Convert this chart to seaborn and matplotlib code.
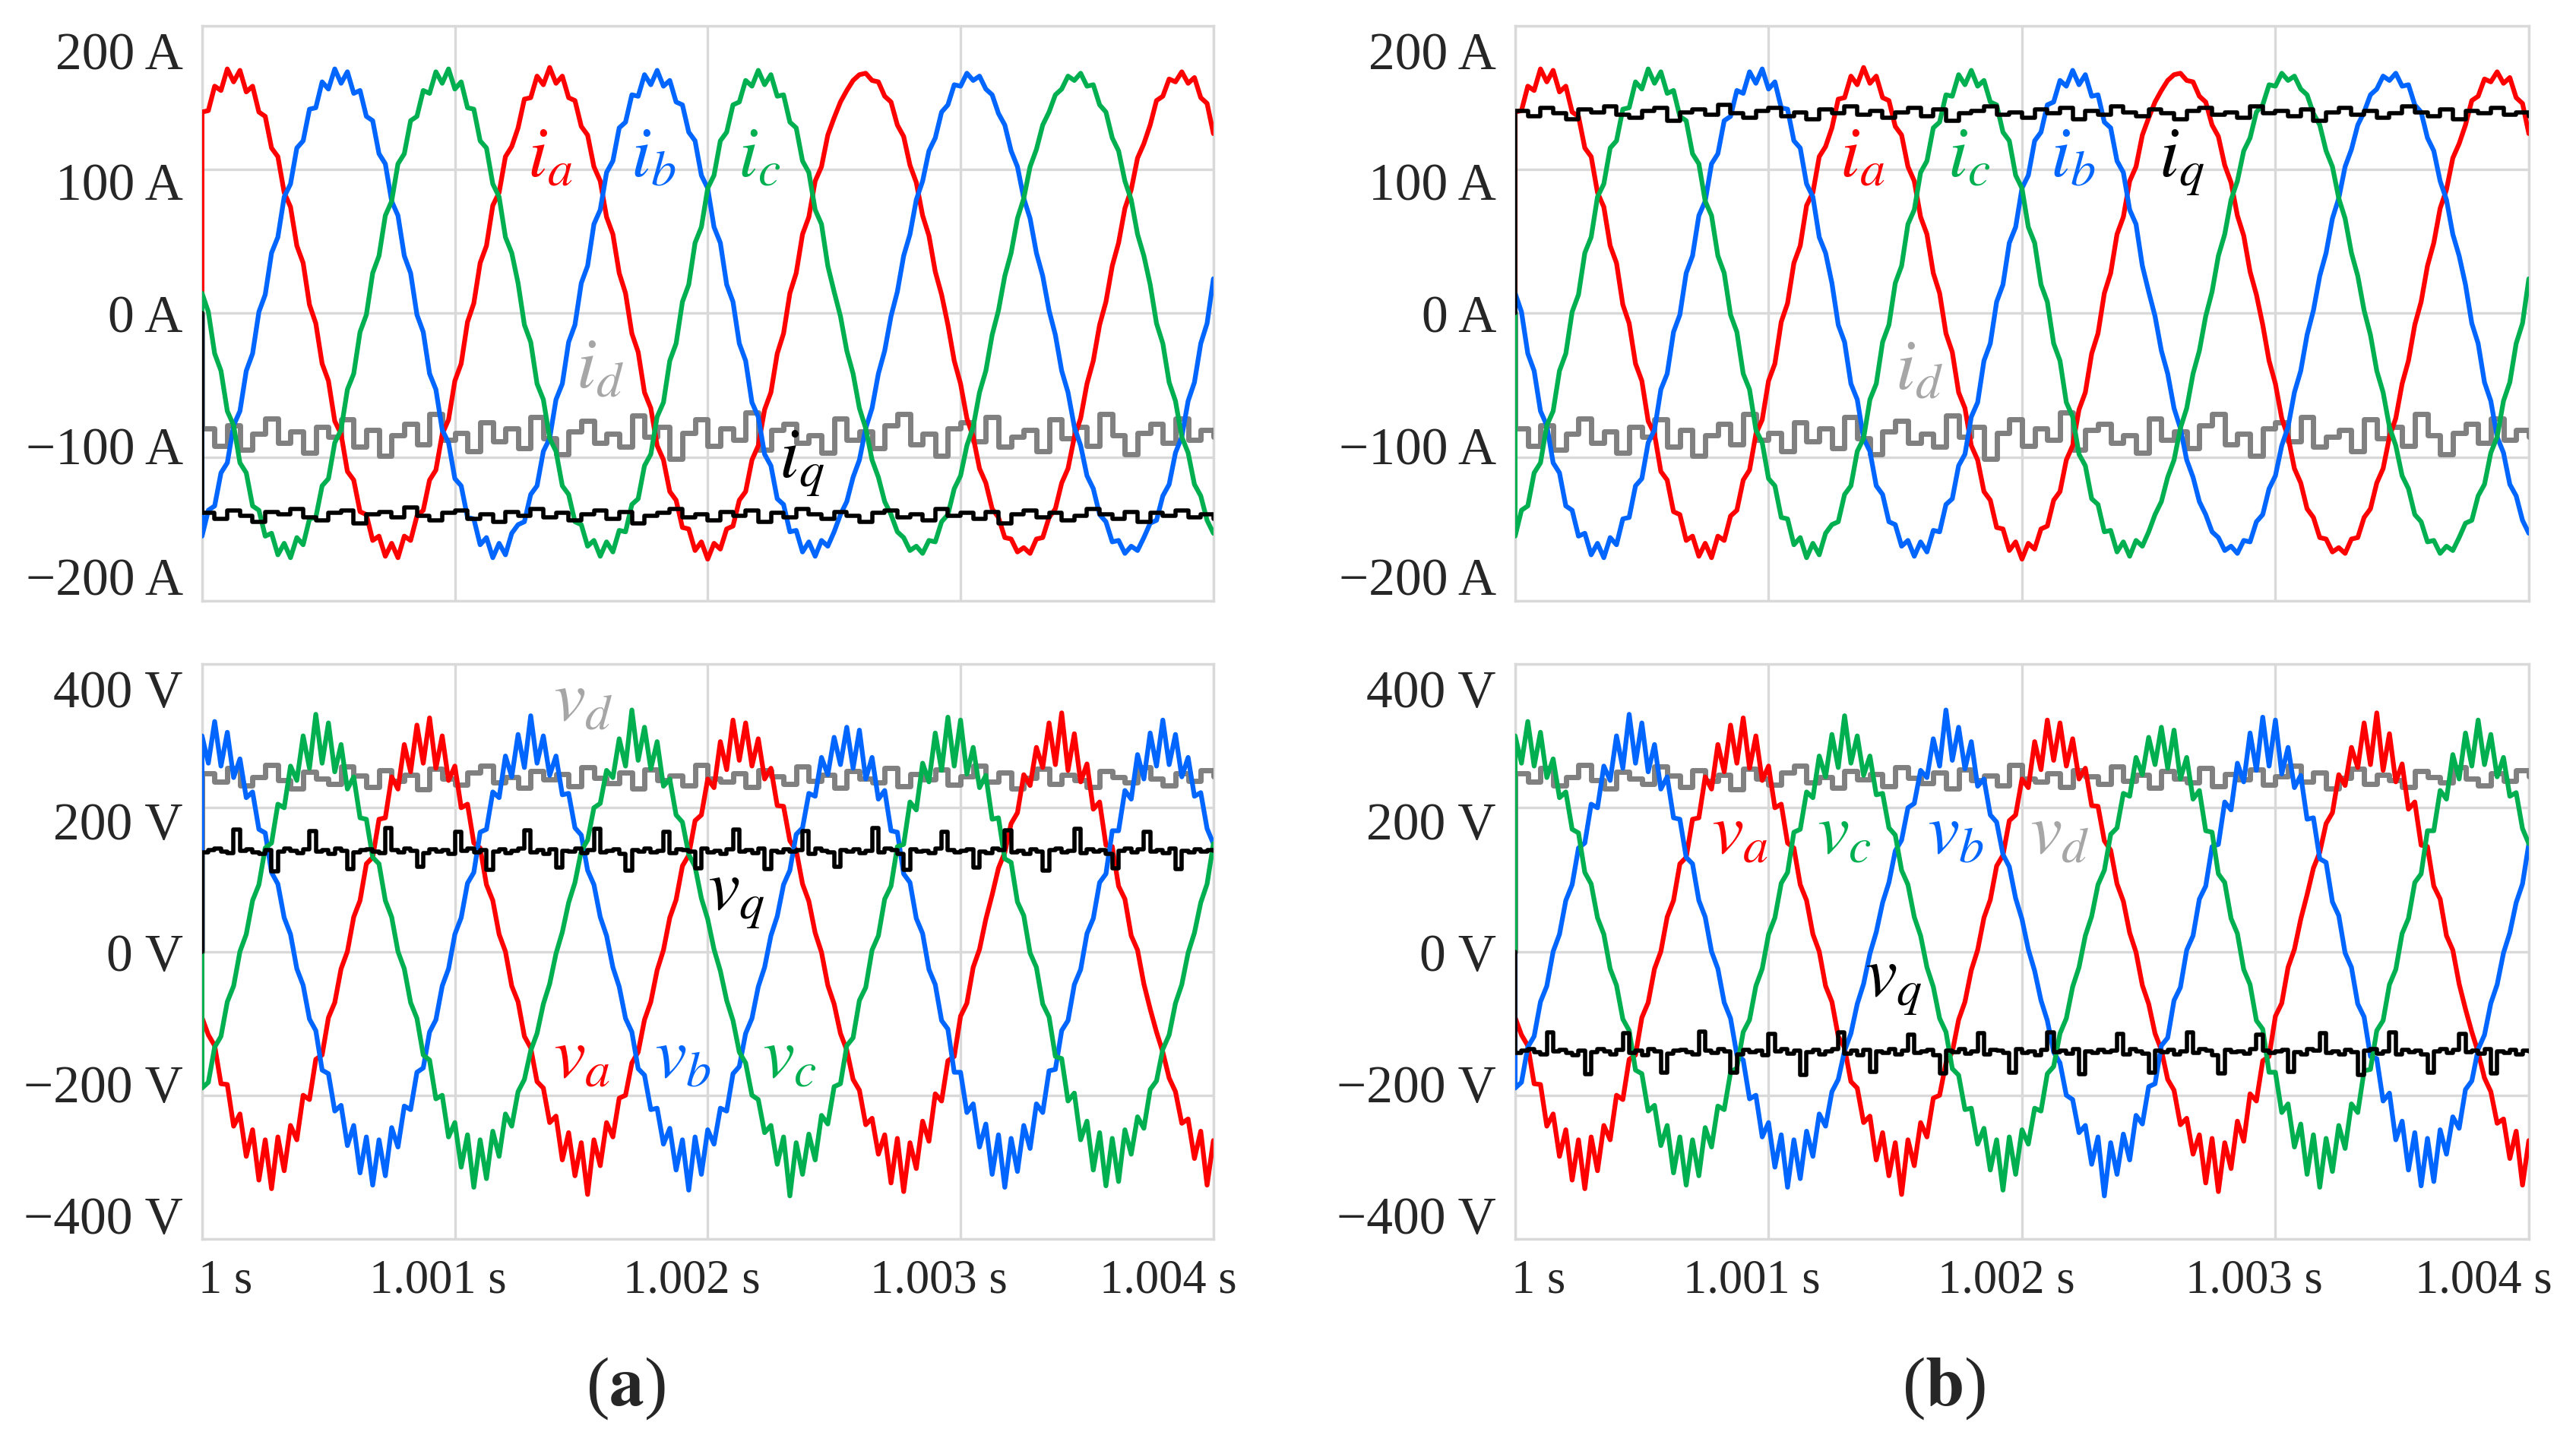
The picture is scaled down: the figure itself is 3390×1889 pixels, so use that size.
import numpy as np
import matplotlib.pyplot as plt
import seaborn as sns

# sampling steps in ms after t = 1 s
DT_S = 0.025  # phase quantities and v_q
DT_D = 0.05   # i_d, i_q, v_d
START = 0.0   # every trace starts from zero at t = 1 s

# phase currents (A), panel (a); panel (b) swaps b and c
ia = [140, 141, 158, 155, 170, 161, 169, 154, 158, 140, 137, 115, 109, 84, 74, 47, 35, 6, -7, -35,
      -47, -75, -84, -110, -116, -138, -140, -158, -155, -169, -160, -170, -155, -158, -141, -137, -116, -109, -84, -74,
      -47, -35, -6, 7, 35, 47, 75, 84, 109, 116,
      129, 149, 150, 165, 159, 171, 160, 165, 150, 148, 130, 124, 102, 92, 67, 55, 28, 14, -14, -27,
      -55, -66, -92, -102, -124, -130, -149, -150, -165, -159, -171, -160, -164, -150, -148, -130, -124, -102, -92, -67,
      -55, -28, -14, 14, 28, 55, 67, 92, 102, 124,
      136, 147, 155, 162, 166, 167, 162, 161, 151, 147, 131, 123, 103, 91, 68, 54, 29, 13, -8, -33,
      -49, -73, -86, -108, -118, -136, -142, -156, -157, -166, -163, -167, -157, -156, -142, -136, -118, -108, -86, -73,
      -49, -33, -8, 8, 33, 49, 73, 86, 108, 118,
      131, 148, 151, 163, 161, 168, 160, 164, 150, 146, 125]
ib = [-155, -137, -134, -111, -104, -78, -68, -40, -28, 1, 13, 42, 53, 81, 90, 115, 120, 142, 143, 161,
      156, 170, 160, 168, 153, 155, 137, 134, 111, 104, 78, 68, 40, 28, -1, -13, -42, -53, -81, -90,
      -115, -120, -142, -143, -161, -156, -170, -160, -168, -153,
      -147, -145, -126, -120, -96, -87, -60, -49, -20, -8, 21, 33, 62, 72, 98, 106, 129, 133, 152, 151,
      166, 159, 169, 158, 162, 147, 145, 126, 120, 96, 87, 60, 49, 20, 8, -21, -33, -62, -72, -98,
      -106, -129, -133, -152, -151, -166, -159, -169, -158, -162,
      -152, -140, -131, -114, -102, -80, -66, -42, -26, -2, 15, 40, 55, 79, 92, 113, 122, 140, 145, 159,
      158, 167, 162, 165, 156, 152, 139, 131, 113, 102, 80, 66, 42, 26, 2, -15, -40, -55, -79, -92,
      -113, -122, -140, -145, -159, -158, -167, -162, -165, -156,
      -146, -144, -127, -119, -97, -86, -61, -48, -21, -7, 24]
ic = [14, 1, -28, -40, -68, -78, -104, -111, -134, -137, -155, -153, -168, -160, -170, -156, -161, -143, -142, -120,
      -115, -90, -81, -53, -42, -13, -1, 28, 40, 68, 78, 104, 111, 134, 137, 155, 153, 168, 160, 170,
      156, 161, 143, 142, 120, 115, 90, 81, 53, 42,
      21, -8, -20, -49, -60, -87, -96, -120, -126, -145, -147, -162, -158, -169, -159, -166, -151, -152, -133, -129,
      -106, -98, -72, -62, -33, -21, 8, 20, 49, 60, 87, 96, 120, 126, 145, 147, 162, 158, 169, 159,
      166, 151, 152, 133, 129, 106, 98, 72, 62, 33,
      15, -2, -26, -42, -66, -80, -102, -114, -131, -140, -152, -156, -165, -162, -167, -158, -159, -145, -140, -122,
      -113, -92, -79, -55, -40, -15, 2, 26, 42, 66, 80, 102, 114, 131, 140, 152, 156, 165, 162, 167,
      158, 159, 145, 140, 122, 113, 92, 79, 55, 40,
      20, -7, -21, -48, -61, -86, -97, -119, -127, -144, -153]

# dq currents (A)
i_d = [-80, -92, -78, -95, -84, -73, -90, -82, -97, -79, -86, -74, -93, -81, -99, -85, -77, -91, -70, -88,
       -83, -96, -76, -89, -80, -94, -72, -87, -98, -82, -75, -90, -84, -93, -71, -86, -79, -101, -83, -74,
       -92, -80, -88, -69, -95, -81, -77, -90, -85, -97, -73, -88, -82, -94, -78, -70, -91, -84, -99, -80,
       -76, -89, -72, -93, -86, -81, -96, -74, -87, -79, -92, -70, -85, -98, -83, -77, -90, -73, -88, -81, -86]
iq_a = [-139, -143, -137, -141, -145, -138, -140, -136, -142, -144, -139, -137, -146, -140, -138, -142, -135, -141, -144, -139,
        -137, -143, -140, -145, -138, -141, -136, -142, -139, -144, -140, -137, -143, -138, -146, -141, -139, -136, -142, -140,
        -144, -138, -141, -137, -145, -139, -142, -136, -140, -143, -138, -141, -145, -139, -137, -142, -140, -144, -136, -141,
        -139, -143, -138, -146, -140, -137, -142, -139, -144, -141, -136, -140, -143, -138, -145, -139, -141, -137, -142, -140, -143]
iq_b = [141, 137, 143, 139, 135, 142, 140, 144, 138, 136, 141, 143, 134, 140, 142, 138, 145, 139, 136, 141,
        143, 137, 140, 135, 142, 139, 144, 138, 141, 136, 140, 143, 137, 142, 134, 139, 141, 144, 138, 140,
        136, 142, 139, 143, 135, 141, 138, 144, 140, 137, 142, 139, 135, 141, 143, 138, 140, 136, 144, 139,
        141, 137, 142, 134, 140, 143, 138, 141, 136, 139, 144, 140, 137, 142, 135, 141, 139, 143, 138, 140, 137]

# phase voltages (V), panel (a); panel (b) swaps b and c
va = [-92, -116, -131, -184, -185, -243, -226, -285, -248, -318, -262, -330, -258, -305, -242, -262, -200, -206, -150, -144,
      -92, -71, -24, 0, 48, 71, 122, 131, 184, 186, 243, 226, 288, 250, 315, 262, 325, 255, 300, 238,
      258, 200, 205, 151, 144, 93, 71, 24, 0, -48,
      -70, -118, -134, -181, -190, -238, -229, -290, -252, -312, -266, -338, -262, -298, -238, -258, -204, -200, -155, -140,
      -95, -70, -26, 2, 47, 72, 119, 134, 182, 190, 240, 228, 292, 253, 322, 266, 318, 258, 296, 240,
      255, 203, 202, 154, 141, 94, 70, 26, -1, -47,
      -73, -114, -137, -178, -193, -241, -232, -282, -255, -322, -260, -334, -266, -302, -236, -264, -198, -208, -152, -146,
      -90, -72, -22, 3, 45, 79, 116, 138, 178, 193, 246, 231, 284, 256, 318, 260, 332, 252, 303, 236,
      261, 198, 208, 148, 146, 91, 73, 22, 2, -45,
      -80, -112, -140, -176, -195, -239, -233, -288, -250, -325, -263]
vb = [300, 262, 320, 258, 305, 242, 268, 214, 222, 170, 165, 110, 94, 47, 24, -24, -47, -94, -110, -165,
      -170, -222, -214, -270, -242, -308, -258, -325, -262, -312, -245, -272, -215, -220, -168, -162, -112, -95, -48, -24,
      24, 47, 95, 110, 166, 170, 222, 214, 272, 243,
      302, 256, 328, 262, 300, 245, 272, 218, 220, 172, 162, 113, 93, 48, 22, -22, -49, -93, -112, -163,
      -172, -220, -218, -268, -246, -304, -262, -332, -258, -310, -248, -268, -218, -222, -170, -160, -114, -93, -49, -22,
      22, 49, 93, 113, 163, 172, 220, 216, 270, 246,
      298, 260, 312, 255, 308, 240, 270, 212, 224, 168, 166, 108, 96, 46, 25, -25, -46, -96, -108, -168,
      -168, -224, -212, -272, -240, -310, -255, -328, -260, -306, -242, -274, -212, -224, -166, -164, -110, -96, -46, -25,
      25, 46, 96, 108, 168, 168, 224, 212, 274, 240,
      304, 258, 322, 260, 302, 243, 270, 216, 221, 171, 150]
vc = [-190, -182, -133, -118, -70, -48, 0, 24, 71, 93, 144, 151, 205, 200, 258, 238, 300, 255, 330, 262,
      318, 250, 288, 226, 243, 186, 184, 131, 122, 71, 48, 0, -24, -71, -93, -144, -151, -205, -200, -258,
      -238, -300, -255, -328, -262, -316, -250, -285, -226, -243,
      -195, -178, -138, -114, -73, -45, -3, 27, 68, 96, 140, 155, 200, 206, 252, 242, 296, 258, 336, 266,
      312, 254, 292, 230, 240, 190, 180, 135, 118, 74, 45, 3, -27, -68, -96, -140, -155, -200, -206, -252,
      -242, -296, -258, -340, -266, -310, -254, -290, -228, -240,
      -188, -184, -131, -120, -68, -50, 2, 22, 73, 91, 146, 149, 208, 197, 262, 236, 304, 252, 326, 258,
      322, 247, 284, 228, 245, 184, 186, 129, 124, 69, 50, -2, -22, -73, -91, -146, -149, -208, -197, -262,
      -236, -304, -252, -326, -260, -320, -248, -282, -230, -246,
      -192, -180, -136, -116, -72, -46, -2, 26, 68, 94, 150]

# dq voltages (V)
vd = [248, 236, 255, 231, 243, 259, 238, 227, 250, 241, 233, 257, 245, 229, 252, 237, 246, 226, 254, 240,
      232, 249, 258, 235, 243, 228, 251, 239, 247, 230, 256, 242, 234, 249, 227, 253, 238, 245, 231, 260,
      240, 236, 248, 229, 252, 244, 233, 257, 237, 246, 228, 251, 241, 235, 255, 230, 247, 239, 253, 232,
      244, 258, 236, 249, 227, 242, 254, 233, 246, 238, 229, 251, 243, 235, 256, 240, 231, 248, 237, 252, 244]
vq_a = [138, 141, 143, 139, 137, 170, 140, 142, 138, 136, 141, 112, 139, 143, 140, 137, 142, 168, 139, 141,
        136, 143, 140, 115, 138, 141, 142, 139, 137, 172, 141, 138, 143, 140, 118, 137, 142, 139, 141, 136,
        166, 140, 143, 138, 141, 114, 139, 142, 137, 140, 143, 169, 138, 141, 136, 142, 117, 140, 139, 143,
        137, 141, 171, 138, 140, 142, 136, 113, 141, 139, 143, 138, 140, 167, 137, 142, 141, 139, 116, 143,
        138, 140, 136, 142, 170, 139, 141, 137, 143, 115, 140, 138, 142, 139, 141, 168, 136, 143, 140, 138,
        118, 141, 139, 142, 137, 140, 172, 138, 143, 141, 136, 114, 142, 139, 140, 137, 143, 166, 141, 138,
        140, 142, 117, 139, 137, 143, 141, 169, 138, 140, 136, 142, 139, 113, 141, 143, 138, 140, 171, 137,
        142, 139, 141, 136, 116, 140, 143, 138, 142, 167, 139, 141, 137, 143, 115, 140, 138, 142, 139, 141, 140]
vq_b = [-141, -138, -136, -140, -143, -112, -139, -137, -141, -144, -138, -171, -140, -136, -139, -143, -137, -114, -141, -138,
        -144, -136, -139, -168, -142, -138, -137, -140, -143, -111, -138, -141, -136, -139, -169, -143, -137, -140, -138, -144,
        -115, -139, -136, -142, -138, -172, -140, -137, -143, -139, -136, -113, -142, -138, -144, -137, -167, -139, -141, -136,
        -143, -138, -116, -141, -139, -137, -144, -170, -138, -140, -136, -142, -139, -114, -143, -137, -138, -141, -168, -136,
        -141, -139, -144, -137, -112, -140, -138, -142, -136, -171, -139, -141, -137, -140, -138, -115, -143, -136, -139, -142,
        -169, -138, -140, -137, -143, -139, -113, -141, -136, -138, -144, -170, -137, -140, -139, -142, -136, -116, -138, -141,
        -139, -137, -167, -140, -143, -136, -138, -114, -141, -139, -143, -137, -140, -172, -138, -136, -142, -139, -112, -143,
        -137, -140, -138, -143, -168, -139, -136, -141, -137, -115, -140, -138, -142, -136, -170, -139, -141, -137, -143, -138, -139]

# axis text
x_grid = [0, 1, 2, 3, 4]
x_label_pos = [0.093, 0.933, 1.938, 2.915, 3.82]
x_labels = ['1 s', '1.001 s', '1.002 s', '1.003 s', '1.004 s']
i_grid = [-200, -100, 0, 100, 200]
i_label_pos = [-183, -92, 0, 92, 183]
i_labels = ['\u2212200 A', '\u2212100 A', '0 A', '100 A', '200 A']
v_grid = [-400, -200, 0, 200, 400]
v_label_pos = [-366, -183, 0, 183, 366]
v_labels = ['\u2212400 V', '\u2212200 V', '0 V', '200 V', '400 V']

RED, BLUE, GREEN = '#ff0000', '#0066ff', '#00b050'
GRAY, LGRAY, BLACK = '#808080', '#a6a6a6', '#000000'
GRID = '#d9d9d9'

sns.set_style('white')
plt.rcParams['font.family'] = ['Liberation Serif', 'DejaVu Serif']
plt.rcParams['mathtext.fontset'] = 'stix'


def trace(ax, dt, vals, color, lw, steps=False, z=3):
    t = np.arange(len(vals)) * dt
    x = np.r_[START, t]
    y = np.r_[START, np.asarray(vals, dtype=float)]
    sns.lineplot(x=x, y=y, ax=ax, color=color, estimator=None, sort=False,
                 drawstyle='steps-post' if steps else 'default')
    line = ax.lines[-1]
    line.set_linewidth(lw)
    line.set_zorder(z)
    line.set_solid_joinstyle('round')


def style(ax, grid, label_pos, labels, lim, show_x):
    ax.set_xlim(0, 4)
    ax.set_ylim(-lim, lim)
    ax.set_xticks(x_grid)
    ax.set_yticks(grid)
    ax.set_yticks(label_pos, labels, minor=True)
    ax.yaxis.remove_overlapping_locs = False
    if show_x:
        ax.set_xticks(x_label_pos, x_labels, minor=True)
    ax.tick_params(which='both', length=0)
    ax.tick_params(which='major', labelleft=False, labelbottom=False)
    ax.tick_params(axis='y', which='minor', labelsize=50, pad=18)
    ax.tick_params(axis='x', which='minor', labelsize=45, pad=18)
    ax.grid(True, which='major', color=GRID, lw=2.4)
    ax.grid(False, which='minor')
    ax.set_axisbelow(True)
    for s in ax.spines.values():
        s.set_color(GRID)
        s.set_linewidth(2.4)
    ax.set_xlabel('')
    ax.set_ylabel('')


def label(ax, x, y, txt, color):
    ax.text(x, y, txt, color=color, fontsize=68, ha='left', va='baseline', zorder=6)


fig = plt.figure(figsize=(33.91, 18.90), dpi=100)
ax_i_a = fig.add_axes([0.0784, 0.5810, 0.3925, 0.4005])
ax_v_a = fig.add_axes([0.0784, 0.1365, 0.3925, 0.4005])
ax_i_b = fig.add_axes([0.5880, 0.5810, 0.3934, 0.4005])
ax_v_b = fig.add_axes([0.5880, 0.1365, 0.3934, 0.4005])

LW, LW_D, LW_Q = 4.5, 5.0, 4.0

# (a) currents
trace(ax_i_a, DT_D, i_d, GRAY, LW_D, steps=True, z=3)
trace(ax_i_a, DT_S, ia, RED, LW, z=3.1)
trace(ax_i_a, DT_S, ib, BLUE, LW, z=3.2)
trace(ax_i_a, DT_S, ic, GREEN, LW, z=3.3)
trace(ax_i_a, DT_D, iq_a, BLACK, LW_Q, steps=True, z=3.5)
style(ax_i_a, i_grid, i_label_pos, i_labels, 200, False)
label(ax_i_a, 1.286, 96, r'$i_a$', RED)
label(ax_i_a, 1.694, 96, r'$i_b$', BLUE)
label(ax_i_a, 2.118, 96, r'$i_c$', GREEN)
label(ax_i_a, 1.48, -51, r'$i_d$', LGRAY)
label(ax_i_a, 2.28, -113, r'$i_q$', BLACK)

# (a) voltages
trace(ax_v_a, DT_D, vd, GRAY, LW_D, steps=True, z=3)
trace(ax_v_a, DT_S, va, RED, LW, z=3.1)
trace(ax_v_a, DT_S, vb, BLUE, LW, z=3.2)
trace(ax_v_a, DT_S, vc, GREEN, LW, z=3.3)
trace(ax_v_a, DT_S, vq_a, BLACK, LW_Q, steps=True, z=3.5)
style(ax_v_a, v_grid, v_label_pos, v_labels, 400, True)
label(ax_v_a, 1.39, 323, r'$v_d$', LGRAY)
label(ax_v_a, 2.0, 60, r'$v_q$', BLACK)
label(ax_v_a, 1.39, -174, r'$v_a$', RED)
label(ax_v_a, 1.79, -174, r'$v_b$', BLUE)
label(ax_v_a, 2.215, -174, r'$v_c$', GREEN)

# (b) currents (phase sequence a-c-b)
trace(ax_i_b, DT_D, i_d, GRAY, LW_D, steps=True, z=3)
trace(ax_i_b, DT_S, ia, RED, LW, z=3.1)
trace(ax_i_b, DT_S, ic, BLUE, LW, z=3.2)
trace(ax_i_b, DT_S, ib, GREEN, LW, z=3.3)
trace(ax_i_b, DT_D, iq_b, BLACK, LW_Q, steps=True, z=3.5)
style(ax_i_b, i_grid, i_label_pos, i_labels, 200, False)
label(ax_i_b, 1.28, 96, r'$i_a$', RED)
label(ax_i_b, 1.706, 96, r'$i_c$', GREEN)
label(ax_i_b, 2.11, 96, r'$i_b$', BLUE)
label(ax_i_b, 2.54, 96, r'$i_q$', BLACK)
label(ax_i_b, 1.50, -52, r'$i_d$', LGRAY)

# (b) voltages
trace(ax_v_b, DT_D, vd, GRAY, LW_D, steps=True, z=3)
trace(ax_v_b, DT_S, va, RED, LW, z=3.1)
trace(ax_v_b, DT_S, vc, BLUE, LW, z=3.2)
trace(ax_v_b, DT_S, vb, GREEN, LW, z=3.3)
trace(ax_v_b, DT_S, vq_b, BLACK, LW_Q, steps=True, z=3.5)
style(ax_v_b, v_grid, v_label_pos, v_labels, 400, True)
label(ax_v_b, 0.775, 138, r'$v_a$', RED)
label(ax_v_b, 1.19, 138, r'$v_c$', GREEN)
label(ax_v_b, 1.625, 138, r'$v_b$', BLUE)
label(ax_v_b, 2.03, 138, r'$v_d$', LGRAY)
label(ax_v_b, 1.38, -60, r'$v_q$', BLACK)

fig.text(0.2427, 0.0328, r'($\mathbf{a}$)', ha='center', va='center', fontsize=66)
fig.text(0.7543, 0.0328, r'($\mathbf{b}$)', ha='center', va='center', fontsize=66)

fig.savefig('out.png', dpi=100)
